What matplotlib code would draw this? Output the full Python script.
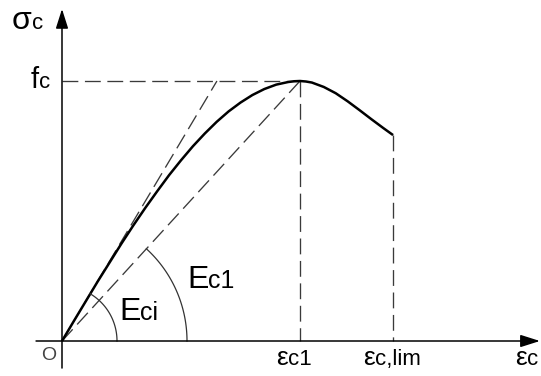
import numpy as np
import matplotlib
matplotlib.use("Agg")
import matplotlib.pyplot as plt

plt.rcParams['font.family'] = ['Liberation Sans', 'DejaVu Sans']

# Normalised strain (eps / eps_c1) and stress (sigma / f_c) along the curve
strain = [0.00, 0.05, 0.10, 0.15, 0.20, 0.25, 0.30, 0.35, 0.40, 0.45,
          0.50, 0.55, 0.60, 0.65, 0.70, 0.75, 0.80, 0.85, 0.90, 0.95,
          0.975, 1.00, 1.025, 1.05, 1.10, 1.15, 1.20, 1.25, 1.30, 1.35, 1.391]
stress = [0.000, 0.077, 0.153, 0.229, 0.302, 0.375, 0.445, 0.512, 0.576, 0.638,
          0.695, 0.749, 0.798, 0.843, 0.883, 0.917, 0.946, 0.969, 0.986, 0.996,
          0.999, 1.000, 0.998, 0.994, 0.977, 0.953, 0.922, 0.888, 0.853, 0.819, 0.792]

eps_c1 = 1.0          # strain at peak stress
f_c = 1.0             # peak stress
eps_lim = 1.391       # ultimate strain
sigma_lim = 0.792     # stress at ultimate strain
eps_tangent = 0.651   # strain where the initial tangent reaches f_c

W, H, DPI = 541, 376, 100
fig = plt.figure(figsize=(W / DPI, H / DPI), dpi=DPI)
ax = fig.add_axes([0, 0, 1, 1])
ax.set_xlim(-0.2605, 2.0126)
ax.set_ylim(-0.1346, 1.3115)
ax.axis('off')

dash = (0, (12, 5))
dcol = '#3a3a3a'
dlw = 0.95

# reference lines
ax.plot([0, eps_c1], [f_c, f_c], color=dcol, lw=dlw, ls=dash)
ax.plot([eps_c1, eps_c1], [f_c, 0], color=dcol, lw=dlw, ls=dash)
ax.plot([eps_lim, eps_lim], [sigma_lim, 0], color=dcol, lw=dlw, ls=dash)
ax.plot([0, eps_tangent], [0, f_c], color=dcol, lw=dlw, ls=dash)
ax.plot([0, eps_c1], [0, f_c], color=dcol, lw=dlw, ls=dash)

# stress-strain curve
ax.plot(strain, stress, color='black', lw=1.8, solid_capstyle='butt',
        solid_joinstyle='round')

# axes with arrows
arrow = dict(arrowstyle='-|>,head_length=0.85,head_width=0.27', mutation_scale=14,
             color='black', lw=1.1, shrinkA=0, shrinkB=0)
ax.annotate('', xy=(2.008, 0), xytext=(-0.109, 0), arrowprops=arrow)
ax.annotate('', xy=(0, 1.277), xytext=(0, -0.104), arrowprops=arrow)

# angle arcs for the two moduli, drawn as circles in display space
def arc(radius_px, p_end, color='#333333', lw=0.9):
    o = ax.transData.transform((0, 0))
    e = ax.transData.transform(p_end)
    ang = np.arctan2(e[1] - o[1], e[0] - o[0])
    t = np.linspace(0, ang, 80)
    pts = np.column_stack([o[0] + radius_px * np.cos(t), o[1] + radius_px * np.sin(t)])
    d = ax.transData.inverted().transform(pts)
    ax.plot(d[:, 0], d[:, 1], color=color, lw=lw)

arc(55, (eps_tangent, f_c))
arc(125, (eps_c1, f_c))

renderer = fig.canvas.get_renderer()

def sub_label(x, y, main, sub, main_size, sub_size):
    t = ax.text(x, y, main, fontsize=main_size, ha='left', va='baseline')
    bb = t.get_window_extent(renderer)
    ax.annotate(sub, xy=(x, y), xycoords='data',
                xytext=(bb.width * 72 / DPI, 0), textcoords='offset points',
                fontsize=sub_size, ha='left', va='baseline')

sub_label(-0.210, 1.200, 'σ', 'c', 23, 16)
sub_label(-0.130, 0.973, 'f', 'c', 21, 16)
sub_label(0.900, -0.092, 'ε', 'c1', 19, 16)
sub_label(1.265, -0.092, 'ε', 'c,lim', 19, 16)
sub_label(1.905, -0.092, 'ε', 'c', 19, 16)
sub_label(0.239, 0.081, 'E', 'ci', 23, 18)
sub_label(0.525, 0.204, 'E', 'c1', 23, 18)
ax.text(-0.055, -0.054, 'O', fontsize=14, color='#444444', ha='center', va='center',
        family='Liberation Sans')

fig.savefig('out.png', dpi=DPI)
